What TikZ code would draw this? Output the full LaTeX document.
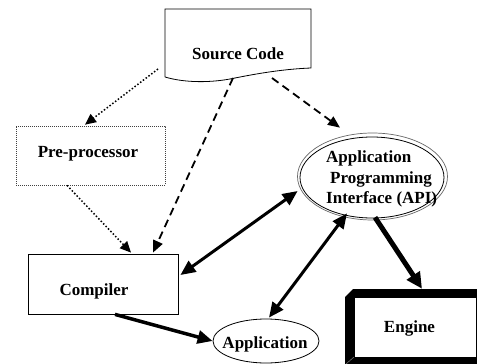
\documentclass[tikz,border=0pt]{standalone}
\usepackage{fontspec}
\setmainfont{Liberation Serif}
\usetikzlibrary{arrows.meta,calc,shapes.geometric}
\begin{document}
\begin{tikzpicture}[x=1pt,y=-1pt,
  lbl/.style={font=\fontsize{17}{20}\selectfont\bfseries, inner sep=0pt, anchor=base},
  lblw/.style={lbl, anchor=base west},
  boxline/.style={draw, line width=0.8pt},
  dotarrow/.style={line width=1.5pt, dash pattern=on 1.5pt off 2pt, -{Triangle[length=11pt,width=10pt]}},
  dasharrow/.style={line width=1.8pt, dash pattern=on 8pt off 5pt, -{Triangle[length=12pt,width=10pt]}},
  duplex/.style={line width=3pt, {Triangle[length=15pt,width=13pt]}-{Triangle[length=15pt,width=13pt]}},
  boldarrow/.style={line width=3.5pt, -{Triangle[length=15pt,width=13pt]}},
  heavyarrow/.style={line width=5pt, -{Triangle[length=16pt,width=15pt]}},
]
\useasboundingbox (0,0) rectangle (477,364);
\fill[white] (0,0) rectangle (477,364);

% Source Code (document shape)
\draw[boxline] (165,77) -- (165,9) -- (311,9) -- (311,68)
  .. controls (285,69) and (260,73) .. (235,78)
  .. controls (212,83) and (185,83) .. (165,77);
\node[lbl] (src) at (238,59) {Source Code};
\coordinate (srcL) at (158,69);
\coordinate (srcA) at (233,78);
\coordinate (srcB) at (272,78);

% Pre-processor
\node[draw=black!75, line width=0.7pt, dash pattern=on 0.8pt off 1.2pt,
  minimum width=149pt, minimum height=59pt, inner sep=0pt] (pre) at (90.5,155.5) {};
\node[lbl] (prel) at (88,157) {Pre-processor};

% Compiler
\node[boxline, minimum width=150pt, minimum height=60pt, inner sep=0pt] (comp) at (103,284) {};
\node[lbl] (compl) at (94,295) {Compiler};

% API
\node[ellipse, draw=black!60, line width=0.7pt, minimum width=150pt, minimum height=87pt, inner sep=0pt] (api) at (372.5,176.5) {};
\node[ellipse, draw, line width=0.8pt, minimum width=144pt, minimum height=81pt, inner sep=0pt] (apiin) at (372,177.5) {};
\node[lblw] (apil1) at (326,162) {Application};
\node[lblw] (apil2) at (330,183) {Programming};
\node[lblw] (apil3) at (326,203) {Interface (API)};

% Application
\node[ellipse, draw, line width=0.8pt, minimum width=106pt, minimum height=44pt, inner sep=0pt] (app) at (266,341) {};
\node[lbl] (appl) at (265,348) {Application};

% Engine (bevelled frame)
\fill[black] (345,297) -- (353,289) -- (480,289) -- (480,368) -- (345,368) -- cycle;
\node[fill=white, draw, line width=0.5pt, minimum width=122pt, minimum height=60pt, inner sep=0pt] (eng) at (415,327) {};
\draw[black!55, line width=0.6pt] (346,364) -- (354,357);
\node[lbl] (engl) at (409.5,332) {Engine};

% connectors
\draw[dotarrow] (srcL) -- ($(pre.north)+(-5.5,-1)$);
\draw[dotarrow] ($(pre.south)+(-23.5,0)$) -- ($(comp.north)+(28,-1)$);
\draw[dasharrow] (srcA) -- ($(comp.north)+(50,-1)$);
\draw[dasharrow] (srcB) -- ($(api.north)+(-32.5,-5)$);
\draw[duplex] ($(comp.east)+(2,-9)$) -- ($(api.west)+(0.5,14.5)$);
\draw[duplex] ($(app.north)+(3,-1)$) -- ($(api.south)+(-25.5,-7)$);
\draw[boldarrow] ($(comp.south)+(12,0)$) -- (app.west);
\draw[heavyarrow] ($(api.south)+(2.5,-3)$) -- ($(eng.north)+(7,-8)$);
\end{tikzpicture}
\end{document}
